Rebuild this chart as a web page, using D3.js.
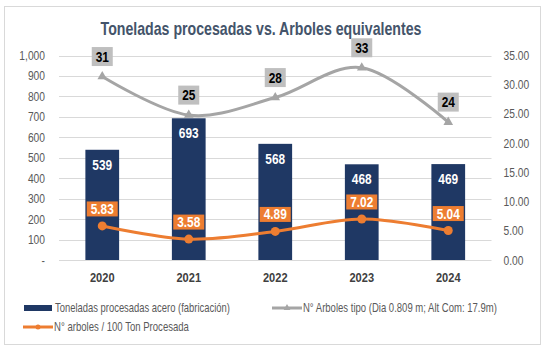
<!DOCTYPE html>
<html><head><meta charset="utf-8">
<script src="https://cdn.jsdelivr.net/npm/d3@7"></script>
<style>
body{margin:0;background:#fff;}
svg{display:block;font-family:"Liberation Sans Narrow","Arial Narrow","Liberation Sans",Arial,sans-serif;}
</style></head>
<body><svg id="c" width="545" height="349"></svg>
<script>
const years = ["2020","2021","2022","2023","2024"];
const toneladas = [539, 693, 568, 468, 469];
const arboles = [31.4, 24.8, 27.8, 32.9, 23.6];
const arbolesPor100 = [5.83, 3.58, 4.89, 7.02, 5.04];
const leftTicks = [0,100,200,300,400,500,600,700,800,900,1000];
const rightTicks = [0,5,10,15,20,25,30,35];

const svg = d3.select("#c");
const m={l:59,r:491.5,t:55.5,b:260};

svg.append("rect").attr("x",4.5).attr("y",6.5).attr("width",536).attr("height",338)
  .attr("fill","#fff").attr("stroke","#d9d9d9").attr("stroke-width",1);

svg.append("text").attr("x",261).attr("y",35).attr("text-anchor","middle")
  .attr("font-size",18).attr("font-weight","bold").attr("fill","#44546a")
  .attr("data-w",321)
  .text("Toneladas procesadas vs. Arboles equivalentes");

const x = d3.scaleBand().domain(years).range([m.l,m.r]).paddingInner(0.61).paddingOuter(0.305);
const yL = d3.scaleLinear().domain([0,1000]).range([m.b,m.t]);
const yR = d3.scaleLinear().domain([0,35]).range([m.b,m.t]);

svg.append("g").selectAll("line").data(leftTicks).join("line")
  .attr("x1",m.l).attr("x2",m.r).attr("y1",d=>Math.round(yL(d))+0.5).attr("y2",d=>Math.round(yL(d))+0.5)
  .attr("stroke","#d9d9d9").attr("stroke-width",1);

const fmtL = d=> d===0 ? "-" : d3.format(",")(d);
const gL = svg.append("g").attr("transform",`translate(${m.l-10},0)`)
  .call(d3.axisLeft(yL).tickValues(leftTicks).tickFormat(fmtL).tickSize(0).tickPadding(4));
gL.select(".domain").remove();
gL.selectAll("text").attr("font-size",12.5).attr("fill","#595959").attr("font-family",null);

const gR = svg.append("g").attr("transform",`translate(${m.r+8},0)`)
  .call(d3.axisRight(yR).tickValues(rightTicks).tickFormat(d3.format(".2f")).tickSize(0).tickPadding(4));
gR.select(".domain").remove();
gR.selectAll("text").attr("font-size",12.5).attr("fill","#595959").attr("font-family",null);

const gX = svg.append("g").attr("transform",`translate(0,${m.b+8})`)
  .call(d3.axisBottom(x).tickSize(0).tickPadding(4));
gX.select(".domain").remove();
gX.selectAll("text").attr("font-size",13.5).attr("font-weight","bold").attr("fill","#404040").attr("font-family",null);

svg.append("g").selectAll("rect").data(years).join("rect")
  .attr("x",d=>x(d)).attr("width",x.bandwidth())
  .attr("y",(d,i)=>yL(toneladas[i])).attr("height",(d,i)=>yL(0)-yL(toneladas[i]))
  .attr("fill","#1f3864");
svg.append("g").selectAll("text").data(years).join("text")
  .attr("x",d=>x(d)+x.bandwidth()/2).attr("y",(d,i)=>yL(toneladas[i])+20)
  .attr("text-anchor","middle").attr("font-size",14.5).attr("font-weight","bold").attr("fill","#fff")
  .text((d,i)=>toneladas[i]);

const cx = d=>x(d)+x.bandwidth()/2;
const curve = d3.curveCatmullRom.alpha(0);

const lineG = d3.line().x((d,i)=>cx(years[i])).y(d=>yR(d)).curve(curve);
svg.append("path").datum(arboles).attr("d",lineG).attr("fill","none").attr("stroke","#a5a5a5").attr("stroke-width",3);
svg.append("g").selectAll("path").data(arboles).join("path")
  .attr("d",d3.symbol(d3.symbolTriangle,40))
  .attr("transform",(d,i)=>`translate(${cx(years[i])},${yR(d)})`).attr("fill","#a5a5a5");
const gLab = svg.append("g").selectAll("g").data(arboles).join("g")
  .attr("transform",(d,i)=>`translate(${cx(years[i])},${yR(d)-20})`);
gLab.append("rect").attr("x",-10.5).attr("y",-9.5).attr("width",21).attr("height",19).attr("fill","#bfbfbf");
gLab.append("text").attr("y",5).attr("text-anchor","middle").attr("font-size",14.5).attr("font-weight","bold").attr("fill","#000")
  .text(d=>d3.format(".0f")(d));

const lineO = d3.line().x((d,i)=>cx(years[i])).y(d=>yR(d)).curve(curve);
svg.append("path").datum(arbolesPor100).attr("d",lineO).attr("fill","none").attr("stroke","#ed7d31").attr("stroke-width",3);
svg.append("g").selectAll("circle").data(arbolesPor100).join("circle")
  .attr("cx",(d,i)=>cx(years[i])).attr("cy",d=>yR(d)).attr("r",4.5).attr("fill","#ed7d31");
const oLab = svg.append("g").selectAll("g").data(arbolesPor100).join("g")
  .attr("transform",(d,i)=>`translate(${cx(years[i])},${yR(d)-17})`);
oLab.append("rect").attr("x",-15.5).attr("y",-7.5).attr("width",31).attr("height",15).attr("fill","#ed7d31");
oLab.append("text").attr("y",5).attr("text-anchor","middle").attr("font-size",14.5).attr("font-weight","bold").attr("fill","#fff")
  .text(d=>d3.format(".2f")(d));

const lg = svg.append("g").attr("font-size",12.5).attr("fill","#595959");
lg.append("rect").attr("x",24).attr("y",305).attr("width",28).attr("height",6).attr("fill","#1f3864");
lg.append("text").attr("x",55).attr("y",312.5).attr("data-w",175).text("Toneladas procesadas acero (fabricación)");
lg.append("line").attr("x1",272).attr("x2",302).attr("y1",308).attr("y2",308).attr("stroke","#a5a5a5").attr("stroke-width",3);
lg.append("path").attr("d",d3.symbol(d3.symbolTriangle,20)).attr("transform","translate(287,308)").attr("fill","#a5a5a5");
lg.append("text").attr("x",303).attr("y",312.5).attr("data-w",194).text("N° Arboles tipo (Dia 0.809 m; Alt Com: 17.9m)");
lg.append("line").attr("x1",23).attr("x2",53).attr("y1",327).attr("y2",327).attr("stroke","#ed7d31").attr("stroke-width",3);
lg.append("circle").attr("cx",38).attr("cy",327).attr("r",2.5).attr("fill","#ed7d31");
lg.append("text").attr("x",54).attr("y",331.5).attr("data-w",135).text("N° arboles / 100 Ton Procesada");

// emulate a narrow typeface by horizontal scaling around each text's anchor x
svg.selectAll("text").each(function(){
  const w = this.getComputedTextLength();
  const s = this.getAttribute("data-w") ? (+this.getAttribute("data-w"))/w : 0.82;
  const ax = +(this.getAttribute("x") || 0);
  this.setAttribute("transform", `translate(${ax},0) scale(${s},1) translate(${-ax},0)`);
});
</script></body></html>
